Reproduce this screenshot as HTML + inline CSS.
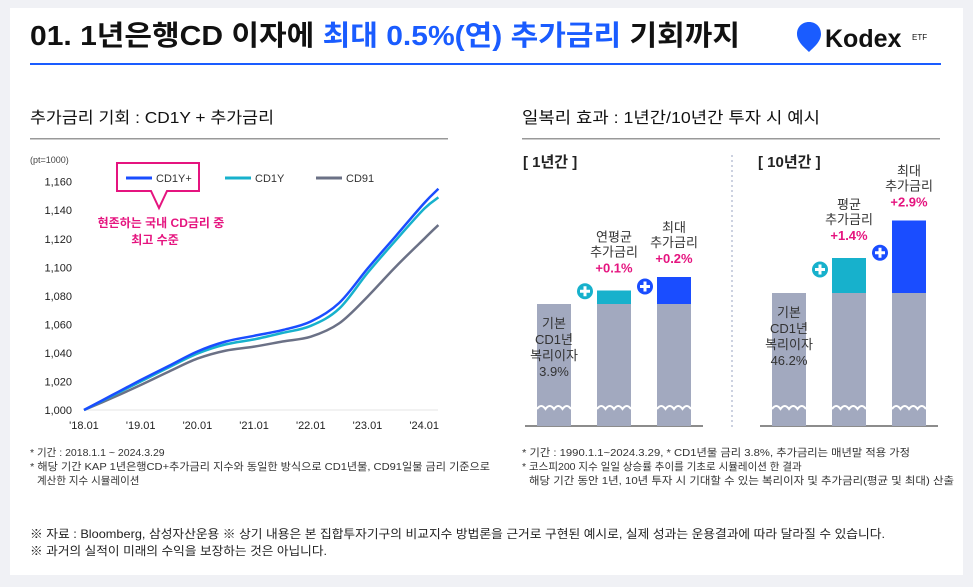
<!DOCTYPE html>
<html><head><meta charset="utf-8"><style>
html,body{margin:0;padding:0;background:#f0f1f5;}
body{width:973px;height:582px;overflow:hidden;font-family:"Liberation Sans","Noto Sans CJK KR",sans-serif;}
svg text{font-family:"Liberation Sans","Noto Sans CJK KR",sans-serif;}
</style></head><body>
<svg id="root" width="973" height="582" viewBox="0 0 973 582" xmlns="http://www.w3.org/2000/svg">
<rect x="10" y="8" width="953" height="567" fill="#fff"/>
<text x="30" y="45" font-size="28" font-weight="bold" fill="#111" textLength="710" lengthAdjust="spacingAndGlyphs">01. 1년은행CD 이자에 <tspan fill="#1a5cff">최대 0.5%(연) 추가금리</tspan> 기회까지</text>
<g>
<path d="M809,22 c-7,0 -12,5 -12,12 c0,8 8,14 12,18 c4,-4 12,-10 12,-18 c0,-7 -5,-12 -12,-12z" fill="#1a5cff"/>
<text x="825" y="47" font-size="25" font-weight="bold" fill="#111">Kodex</text>
<text x="912" y="40" font-size="8" fill="#111">ETF</text>
</g>
<rect x="30" y="63" width="911" height="2" fill="#1a5cff"/>
<text x="30" y="123" font-size="16" fill="#111" textLength="244" lengthAdjust="spacingAndGlyphs">추가금리 기회 : CD1Y + 추가금리</text>
<text x="522" y="123" font-size="16" fill="#111" textLength="298" lengthAdjust="spacingAndGlyphs">일복리 효과 : 1년간/10년간 투자 시 예시</text>
<rect x="30" y="138" width="418" height="1.5" fill="#999"/>
<rect x="522" y="138" width="418" height="1.5" fill="#999"/>

<g id="line-chart"></g>
<g id="bar-chart"></g>

<g font-size="10.5" fill="#333">
<text x="30" y="456">* 기간 : 2018.1.1 ~ 2024.3.29</text>
<text x="30" y="470" textLength="460" lengthAdjust="spacingAndGlyphs">* 해당 기간 KAP 1년은행CD+추가금리 지수와 동일한 방식으로 CD1년물, CD91일물 금리 기준으로</text>
<text x="37" y="484">계산한 지수 시뮬레이션</text>
</g>
<g font-size="10.5" fill="#333">
<text x="522" y="456" textLength="388" lengthAdjust="spacingAndGlyphs">* 기간 : 1990.1.1~2024.3.29, * CD1년물 금리 3.8%, 추가금리는 매년말 적용 가정</text>
<text x="522" y="470">* 코스피200 지수 일일 상승률 추이를 기초로 시뮬레이션 한 결과</text>
<text x="529" y="484" textLength="425" lengthAdjust="spacingAndGlyphs">해당 기간 동안 1년, 10년 투자 시 기대할 수 있는 복리이자 및 추가금리(평균 및 최대) 산출</text>
</g>
<g font-size="12" fill="#222">
<text x="30" y="538" textLength="855" lengthAdjust="spacingAndGlyphs">※ 자료 : Bloomberg, 삼성자산운용  ※ 상기 내용은 본 집합투자기구의 비교지수 방법론을 근거로 구현된 예시로, 실제 성과는 운용결과에 따라 달라질 수 있습니다.</text>
<text x="30" y="555" textLength="297" lengthAdjust="spacingAndGlyphs">※ 과거의 실적이 미래의 수익을 보장하는 것은 아닙니다.</text>
</g>
</svg>
<script>
const NS="http://www.w3.org/2000/svg";
const years=[2018.0,2018.5,2019.0,2019.5,2020.0,2020.5,2021.0,2021.5,2022.0,2022.5,2023.0,2023.5,2024.0,2024.25];
const cd1yPlus=[1000,1010.5,1021,1031,1041,1048,1052,1056,1062,1075,1099,1122,1145,1155];
const cd1y=[1000,1010,1020,1030,1039.5,1046,1049.5,1054,1059,1071,1096,1119,1141,1149];
const cd91=[1000,1008.5,1017.5,1027,1036,1041.6,1044.4,1048,1051.4,1060.7,1079.4,1100.5,1120,1129.6];
const yTicks=[1000,1020,1040,1060,1080,1100,1120,1140,1160];
const xTickYears=[2018,2019,2020,2021,2022,2023,2024];
const xTickLabels=["'18.01","'19.01","'20.01","'21.01","'22.01","'23.01","'24.01"];
const seriesNames=["CD1Y+","CD1Y","CD91"];

const barGroups=["1년간","10년간"];
const baseRates=[3.9,46.2];
const avgExtra=[0.1,1.4];
const maxExtra=[0.2,2.9];

function mk(tag,attrs,parent){const e=document.createElementNS(NS,tag);for(const k in attrs)e.setAttribute(k,attrs[k]);parent.appendChild(e);return e;}
function txt(parent,x,y,s,attrs){const t=mk('text',Object.assign({x:x,y:y},attrs||{}),parent);t.textContent=s;return t;}

const lc=document.getElementById('line-chart');
const xs=y=>84+(y-2018)*56.7;
const ys=v=>410-(v-1000)*1.427;
mk('line',{x1:84,x2:438,y1:410,y2:410,stroke:'#e6e6e6','stroke-width':1},lc);
txt(lc,30,163,'(pt=1000)',{'font-size':9,fill:'#444'});
yTicks.forEach(v=>{const t=txt(lc,72,ys(v)+4,v.toLocaleString('en-US'),{'font-size':11,fill:'#222','text-anchor':'end'});

});
xTickYears.forEach((y,i)=>{const t=txt(lc,xs(y),429,xTickLabels[i],{'font-size':11,fill:'#222','text-anchor':'middle'});

});
function path(vals){
  const P=vals.map((v,i)=>[xs(years[i]),ys(v)]);
  let d='M'+P[0][0].toFixed(1)+','+P[0][1].toFixed(1);
  for(let i=0;i<P.length-1;i++){
    const p0=P[Math.max(0,i-1)],p1=P[i],p2=P[i+1],p3=P[Math.min(P.length-1,i+2)];
    const c1=[p1[0]+(p2[0]-p0[0])/6,p1[1]+(p2[1]-p0[1])/6];
    const c2=[p2[0]-(p3[0]-p1[0])/6,p2[1]-(p3[1]-p1[1])/6];
    d+='C'+c1[0].toFixed(1)+','+c1[1].toFixed(1)+' '+c2[0].toFixed(1)+','+c2[1].toFixed(1)+' '+p2[0].toFixed(1)+','+p2[1].toFixed(1);
  }
  return d;}
const c91=mk('path',{d:path(cd91),fill:'none',stroke:'#6b7186','stroke-width':2.5,'stroke-linejoin':'round'},lc);


const c1=mk('path',{d:path(cd1y),fill:'none',stroke:'#17b1cc','stroke-width':2.5,'stroke-linejoin':'round'},lc);


const c1p=mk('path',{d:path(cd1yPlus),fill:'none',stroke:'#1a4dff','stroke-width':2.5,'stroke-linejoin':'round'},lc);


const lg=mk('g',{},lc);


mk('path',{d:'M117,163 H199 V191 H167 L159,208 L151,191 H117 Z',fill:'#fff',stroke:'#e5147f','stroke-width':2},lg);
const legCols=['#1a4dff','#17b1cc','#6b7186'];const legX=[126,225,316];
seriesNames.forEach((n,i)=>{mk('line',{x1:legX[i],x2:legX[i]+26,y1:178,y2:178,stroke:legCols[i],'stroke-width':3},lg);
const t=txt(lg,legX[i]+30,182,n,{'font-size':11,fill:'#333'});

});
const an=mk('g',{'font-size':12,'font-weight':'bold',fill:'#e5147f','text-anchor':'middle'},lc);


txt(an,161,227,'현존하는 국내 CD금리 중');txt(an,155,244,'최고 수준');

const bc=document.getElementById('bar-chart');
const base=426;
const panels=[{x0:537,axis:[525,703],baseH:122,scale:135,label:523,lines:[585,645]},
              {x0:772,axis:[760,938],baseH:133,scale:25,label:758,lines:[820,880]}];
mk('line',{x1:732,x2:732,y1:155,y2:428,stroke:'#9aa3c0','stroke-width':1,'stroke-dasharray':'2,3'},bc);
panels.forEach((p,g)=>{
  const G=mk('g',{},bc);
  
  
  txt(G,p.label,167,'[ '+barGroups[g]+' ]',{'font-size':15,'font-weight':'bold',fill:'#222'});
  mk('line',{x1:p.axis[0],x2:p.axis[1],y1:base,y2:base,stroke:'#666','stroke-width':1.5},G);
  const bw=34,gap=60;
  const baseTop=base-p.baseH;
  const extras=[0,avgExtra[g],maxExtra[g]];
  const cols=['#a2a9bf','#17b1cc','#1a4dff'];
  for(let i=0;i<3;i++){
    const x=p.x0+i*gap;
    const b=mk('rect',{x:x,y:baseTop,width:bw,height:p.baseH,fill:'#a2a9bf'},G);
    
    
    if(i>0){const h=extras[i]*p.scale;
      const e=mk('rect',{x:x,y:baseTop-h,width:bw,height:h,fill:cols[i]},G);
      
      }
    let d='M'+x+',409';for(let k=0;k<4;k++){d+=' q'+(bw/8)+',-6 '+(bw/4)+',0';}
    mk('path',{d:d,fill:'none',stroke:'#fff','stroke-width':2},G);
  }
  [[p.lines[0],baseTop-avgExtra[g]*p.scale/2-6,'#17b1cc'],[p.lines[1],baseTop-maxExtra[g]*p.scale/2-4,'#1a4dff']].forEach(q=>{
    const pg=mk('g',{},G);
    
    
    mk('circle',{cx:q[0],cy:q[1],r:8,fill:q[2]},pg);
    mk('rect',{x:q[0]-5,y:q[1]-1.5,width:10,height:3,fill:'#fff'},pg);
    mk('rect',{x:q[0]-1.5,y:q[1]-5,width:3,height:10,fill:'#fff'},pg);
  });
  const cx=i=>p.x0+i*gap+bw/2;
  const bl=mk('g',{'font-size':13,fill:'#333','text-anchor':'middle'},G);
  
  
  const by=baseTop+24;
  ['기본','CD1년','복리이자',baseRates[g]+'%'].forEach((s,k)=>txt(bl,cx(0),by+k*16,s));
  const t1=baseTop-avgExtra[g]*p.scale;
  const al=mk('g',{'font-size':13,'text-anchor':'middle'},G);
  
  
  txt(al,cx(1),t1-49,g==0?'연평균':'평균',{fill:'#333'});txt(al,cx(1),t1-34,'추가금리',{fill:'#333'});
  txt(al,cx(1),t1-18,'+'+avgExtra[g].toFixed(1)+'%',{fill:'#e5147f','font-weight':'bold'});
  const t2=baseTop-maxExtra[g]*p.scale;
  const ml=mk('g',{'font-size':13,'text-anchor':'middle'},G);
  
  
  txt(ml,cx(2),t2-45,'최대',{fill:'#333'});txt(ml,cx(2),t2-30,'추가금리',{fill:'#333'});
  txt(ml,cx(2),t2-14,'+'+maxExtra[g].toFixed(1)+'%',{fill:'#e5147f','font-weight':'bold'});
});
</script>
</body></html>
